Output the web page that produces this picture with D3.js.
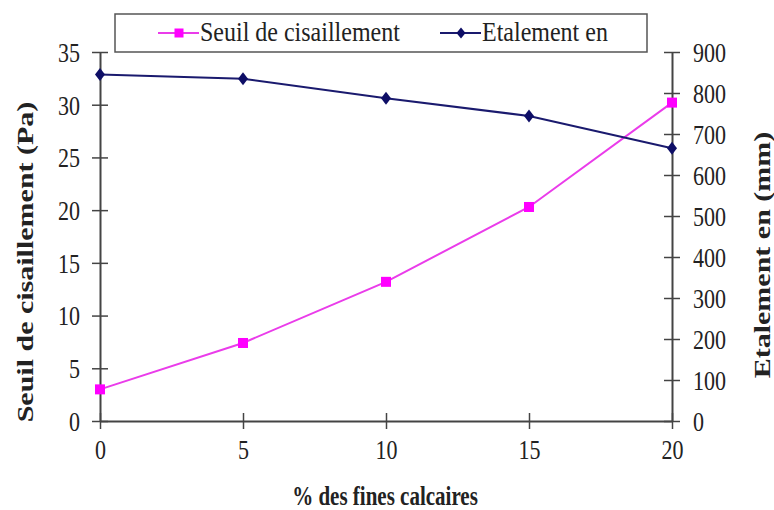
<!DOCTYPE html>
<html>
<head>
<meta charset="utf-8">
<script src="https://cdn.jsdelivr.net/npm/d3@7"></script>
<style>
  html, body { margin: 0; padding: 0; background: #fff; }
  svg { display: block; }
</style>
</head>
<body>
<svg id="chart" width="774" height="510"></svg>
<script>
// % of limestone fines
const fines = [0, 5, 10, 15, 20];
// Yield stress (Pa), left axis
const seuil = [3.0, 7.4, 13.2, 20.3, 30.2];
// Slump flow (mm), right axis
const etalement = [845, 835, 787, 744, 665];

const xTicks = [0, 5, 10, 15, 20];
const leftTicks = [0, 5, 10, 15, 20, 25, 30, 35];
const rightTicks = [0, 100, 200, 300, 400, 500, 600, 700, 800, 900];

const seriesNames = ["Seuil de cisaillement", "Etalement en"];
const xTitle = "% des fines calcaires";
const leftTitle = "Seuil de cisaillement (Pa)";
const rightTitle = "Etalement en (mm)";

const serif = "'Liberation Serif', 'Times New Roman', serif";
const pink = "#ea3cea";
const pinkMarker = "#ff00ff";
const navy = "#1a1a6e";
const markerNavy = "#0e0e66";
const axisColor = "#444";
const textColor = "#222";
const stretch = 1.25; // glyphs are drawn taller than wide

const plot = { left: 100, right: 672, top: 52, bottom: 421 };

const svg = d3.select("#chart");

const x = d3.scaleLinear().domain([0, 20]).range([plot.left, plot.right]);
const yL = d3.scaleLinear().domain([0, 35]).range([plot.bottom, plot.top]);
const yR = d3.scaleLinear().domain([0, 900]).range([plot.bottom, plot.top]);

function styleAxis(g, dx, dy, anchor) {
  g.select(".domain").attr("stroke", axisColor).attr("stroke-width", 2);
  g.selectAll(".tick line").attr("stroke", axisColor).attr("stroke-width", 1.5);
  g.selectAll(".tick text")
    .attr("x", null).attr("y", null)
    .attr("dy", "0.34em")
    .attr("text-anchor", anchor)
    .attr("transform", `translate(${dx},${dy}) scale(1,${stretch})`)
    .attr("fill", textColor)
    .style("font-size", "22px")
    .style("font-family", serif);
}

// Left axis: ticks cross the axis line
const gL = svg.append("g").attr("transform", `translate(${plot.left},0)`)
  .call(d3.axisLeft(yL).tickValues(leftTicks).tickSize(8).tickSizeOuter(0));
styleAxis(gL, -20, 0, "end");
gL.selectAll(".tick line").attr("x1", 8).attr("x2", -8);

// Right axis
const gR = svg.append("g").attr("transform", `translate(${plot.right},0)`)
  .call(d3.axisRight(yR).tickValues(rightTicks).tickSize(8).tickSizeOuter(0));
styleAxis(gR, 21, 0, "start");
gR.selectAll(".tick line").attr("x1", -8).attr("x2", 8);

// Bottom axis
const gX = svg.append("g").attr("transform", `translate(0,${plot.bottom})`)
  .call(d3.axisBottom(x).tickValues(xTicks).tickSize(8).tickSizeOuter(0));
styleAxis(gX, 0, 29, "middle");
gX.selectAll(".tick line").attr("y1", -8).attr("y2", 8);

// Series lines
const lineL = d3.line().x((d, i) => x(fines[i])).y(d => yL(d));
const lineR = d3.line().x((d, i) => x(fines[i])).y(d => yR(d));

svg.append("path").datum(seuil).attr("d", lineL)
  .attr("fill", "none").attr("stroke", pink).attr("stroke-width", 2);
svg.append("path").datum(etalement).attr("d", lineR)
  .attr("fill", "none").attr("stroke", navy).attr("stroke-width", 2);

// Markers
const sq = 10;
svg.append("g").selectAll("rect").data(seuil).join("rect")
  .attr("x", (d, i) => x(fines[i]) - sq / 2)
  .attr("y", d => yL(d) - sq / 2)
  .attr("width", sq).attr("height", sq)
  .attr("fill", pinkMarker);

// Diamond marker, slightly taller than wide
function diamondPath(w, h) {
  return `M0,${-h / 2}L${w / 2},0L0,${h / 2}L${-w / 2},0Z`;
}
svg.append("g").selectAll("path").data(etalement).join("path")
  .attr("transform", (d, i) => `translate(${x(fines[i])},${yR(d)})`)
  .attr("d", diamondPath(10, 13))
  .attr("fill", markerNavy);

// Axis titles
function title(text, transform, size) {
  svg.append("text")
    .attr("transform", transform)
    .attr("text-anchor", "middle")
    .attr("fill", textColor)
    .style("font-family", serif)
    .style("font-size", size + "px")
    .style("font-weight", "bold")
    .text(text);
}
title(leftTitle, `translate(33,262) scale(1,${stretch}) rotate(-90)`, 24);
title(rightTitle, `translate(770,255) scale(1,${stretch}) rotate(-90)`, 24);
title(xTitle, `translate(385,505) scale(1,${stretch})`, 21);

// Legend box
const legend = svg.append("g");
legend.append("rect")
  .attr("x", 115).attr("y", 14).attr("width", 532).attr("height", 38)
  .attr("fill", "#fff").attr("stroke", "#555").attr("stroke-width", 1.5);

const legendItems = [
  { name: seriesNames[0], x0: 158, color: pink, marker: "square" },
  { name: seriesNames[1], x0: 440, color: navy, marker: "diamond" }
];
legendItems.forEach(it => {
  const cy = 33;
  legend.append("line")
    .attr("x1", it.x0).attr("x2", it.x0 + 41).attr("y1", cy).attr("y2", cy)
    .attr("stroke", it.color).attr("stroke-width", 2);
  if (it.marker === "square") {
    legend.append("rect").attr("x", it.x0 + 21 - 4.5).attr("y", cy - 4.5)
      .attr("width", 9).attr("height", 9).attr("fill", pinkMarker);
  } else {
    legend.append("path").attr("transform", `translate(${it.x0 + 21},${cy})`)
      .attr("d", diamondPath(9, 11)).attr("fill", markerNavy);
  }
  legend.append("text")
    .attr("transform", `translate(${it.x0 + 42},41) scale(1,1.1)`)
    .attr("fill", textColor)
    .style("font-family", serif)
    .style("font-size", "24px")
    .text(it.name);
});
</script>
</body>
</html>
